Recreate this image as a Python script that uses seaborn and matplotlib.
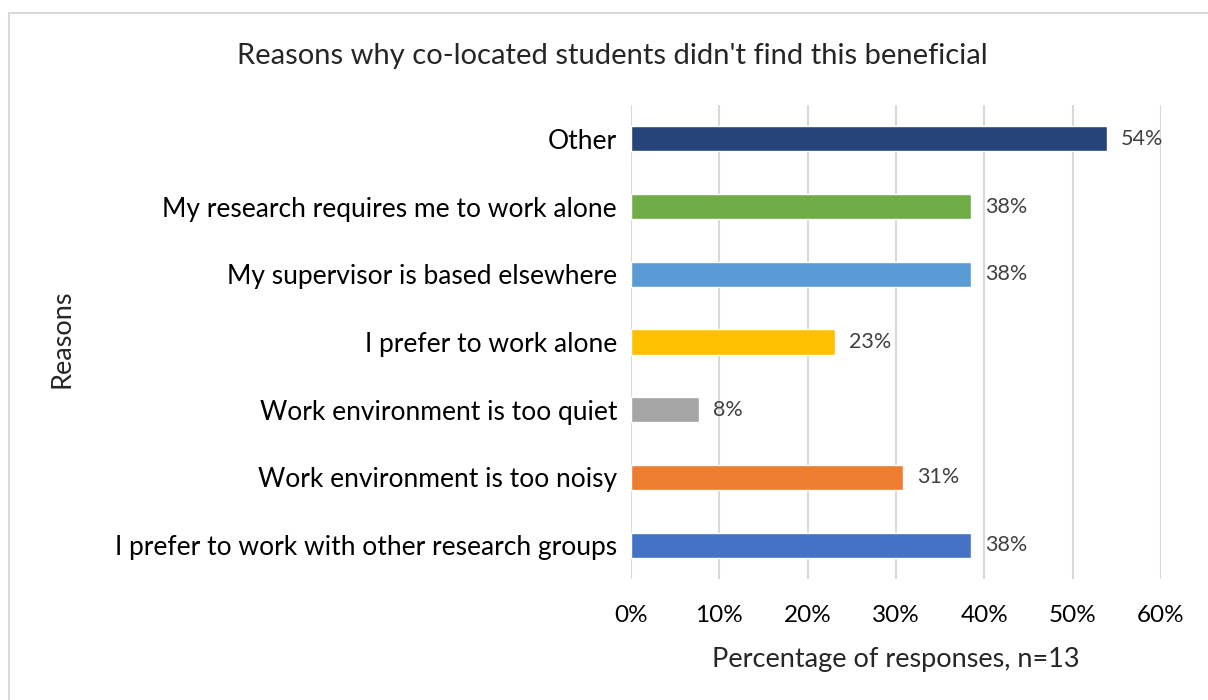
import matplotlib
matplotlib.use("Agg")
import matplotlib.pyplot as plt
import matplotlib.ticker as mticker
from matplotlib.patches import Rectangle
import seaborn as sns
import pandas as pd

# Survey responses (n=13), listed top to bottom as shown on the chart
reasons = [
    "Other",
    "My research requires me to work alone",
    "My supervisor is based elsewhere",
    "I prefer to work alone",
    "Work environment is too quiet",
    "Work environment is too noisy",
    "I prefer to work with other research groups",
]
percentages = [53.85, 38.46, 38.46, 23.08, 7.69, 30.77, 38.46]
value_labels = ["54%", "38%", "38%", "23%", "8%", "31%", "38%"]
bar_colors = ["#264478", "#70AD47", "#5B9BD5", "#FFC000", "#A5A5A5", "#ED7D31", "#4472C4"]
x_ticks = [0, 10, 20, 30, 40, 50, 60]

sns.set_theme(style="white")
plt.rcParams["font.family"] = ["Lato", "DejaVu Sans"]

df = pd.DataFrame({"reason": reasons, "pct": percentages})

fig = plt.figure(figsize=(12.08, 7.0), dpi=100)
ax = fig.add_axes([631 / 1208, 1 - 579 / 700, 530 / 1208, 474 / 700])

sns.barplot(data=df, y="reason", x="pct", hue="reason", palette=bar_colors,
            order=reasons, hue_order=reasons, legend=False, width=0.37,
            saturation=1, ax=ax, orient="h")

ax.set_xlim(0, 60)
ax.set_xticks(x_ticks)
ax.xaxis.set_major_formatter(mticker.FuncFormatter(lambda v, _: f"{v:.0f}%"))
ax.grid(axis="x", color="#D9D9D9", linewidth=1.5)
ax.grid(axis="y", visible=False)
ax.set_axisbelow(True)
for s in ax.spines.values():
    s.set_visible(False)
ax.tick_params(axis="y", length=0, labelsize=19, colors="#000000", pad=10)
ax.tick_params(axis="x", length=0, labelsize=17.5, colors="#000000", pad=19)

for bar, lab in zip(ax.patches, value_labels):
    ax.annotate(lab, (bar.get_width(), bar.get_y() + bar.get_height() / 2),
                xytext=(10, 0), textcoords="offset points", ha="left", va="center",
                fontsize=15.5, color="#404040")

ax.set_ylabel("")
ax.set_xlabel("")
fig.text(896 / 1208, 1 - 659 / 700, "Percentage of responses, n=13",
         ha="center", va="center", fontsize=19.5)
fig.text(62 / 1208, 1 - 339 / 700, "Reasons", rotation=90,
         ha="center", va="center", fontsize=19.5)
fig.text(612 / 1208, 1 - 56 / 700,
         "Reasons why co-located students didn't find this beneficial",
         ha="center", va="center", fontsize=21)

# Chart-area frame
fig.patches.append(Rectangle((9 / 1208, -0.1), 1.2, (1 - 13 / 700) + 0.1,
                             transform=fig.transFigure, fill=False,
                             edgecolor="#D9D9D9", linewidth=1.5))

fig.savefig("out.png", dpi=100, facecolor="white")
